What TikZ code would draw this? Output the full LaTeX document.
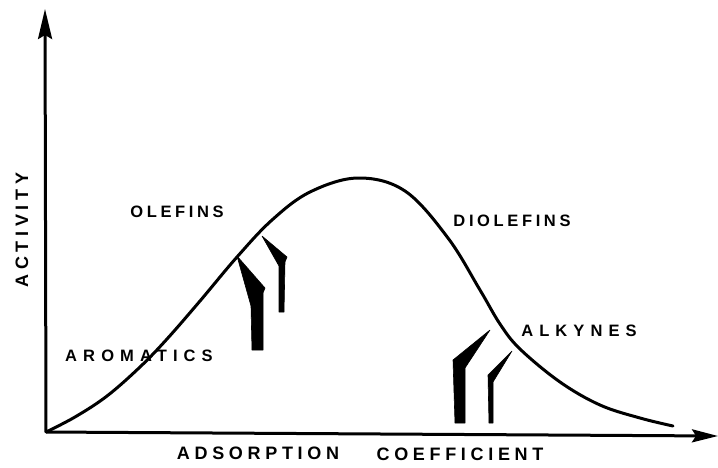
\documentclass[tikz,border=0pt]{standalone}
\usepackage{fontspec}
\usepackage{xcolor}
\usetikzlibrary{arrows.meta}

% Polices des étiquettes (capitales grasses espacées)
\newfontfamily\etiqfont[LetterSpace=22, UprightFont={* Bold}]{Liberation Sans}
\newfontfamily\etiqlarge[LetterSpace=37, UprightFont={* Bold}]{Liberation Sans}
\newfontfamily\axefont[LetterSpace=26, UprightFont={* Bold}]{Liberation Sans}

\tikzset{
  courbe/.style={line width=3pt, line cap=round, line join=round},
  axe/.style={line width=3pt, -{Stealth[length=30pt, width=14pt, inset=4pt]}},
  axex/.style={line width=3pt, -{Stealth[length=26pt, width=13pt, inset=4pt]}},
  etiq/.style={inner sep=0pt, font=\etiqfont\fontsize{16.5}{16.5}\selectfont},
  etiqlg/.style={inner sep=0pt, font=\etiqlarge\fontsize{16.5}{16.5}\selectfont},
  etiqaxe/.style={inner sep=0pt, font=\axefont\fontsize{18}{18}\selectfont},
  fleche/.style={fill=black, draw=black, line width=0.6pt, line join=round}
}

\begin{document}
\begin{tikzpicture}[x=1pt, y=-1pt]

    \useasboundingbox (0,0) rectangle (718,467);

    % Coordonnées des axes
    \coordinate (O) at (46,432);    % Origine
    \coordinate (Y) at (45,9);      % Bout de l'axe vertical
    \coordinate (X) at (718,436);   % Bout de l'axe horizontal

    % Axes
    \draw[axe] (O) -- (Y);
    \draw[axex] (O) -- (X);

    % Courbe d'activité (en cloche)
    \draw[courbe] plot[smooth, tension=0.6] coordinates {
        (46,432) (75,417) (107,396) (140,367) (167,339) (200,301)
        (237,257) (272,220) (310,192) (358,178) (405,191) (448,238)
        (480,290) (500,324) (520,349) (560,382) (600,405) (640,418) (673,426)};

    % Demi-flèches côté gauche
    \fill[fleche] (237,256) -- (265,288) -- (263,293) -- (263,350)
                  -- (252,350) -- (251,306) -- cycle;
    \fill[fleche] (262,236) -- (287,257) -- (285,262) -- (284,312)
                  -- (279,312) -- (279,266) -- cycle;

    % Demi-flèches côté droit
    \fill[fleche] (490,330) -- (465,368) -- (465,423) -- (455,423)
                  -- (453,360) -- cycle;
    \fill[fleche] (512,351) -- (493,382) -- (493,423) -- (489,423)
                  -- (488,375) -- cycle;

    % --- Étiquettes ---
    \node[etiq]   (olef)  at (177,212) {OLEFINS};
    \node[etiq]   (diol)  at (512,221) {DIOLEFINS};
    \node[etiqlg] (arom)  at (139,356) {AROMATICS};
    \node[etiqlg] (alky)  at (579,331) {ALKYNES};

    % Titres des axes
    \node[etiqaxe, rotate=90] (activ) at (22,230) {ACTIVITY};
    \node[etiqaxe] (adsor) at (258,453) {ADSORPTION};
    \node[etiqaxe] (coeff) at (460,454) {COEFFICIENT};

\end{tikzpicture}
\end{document}
